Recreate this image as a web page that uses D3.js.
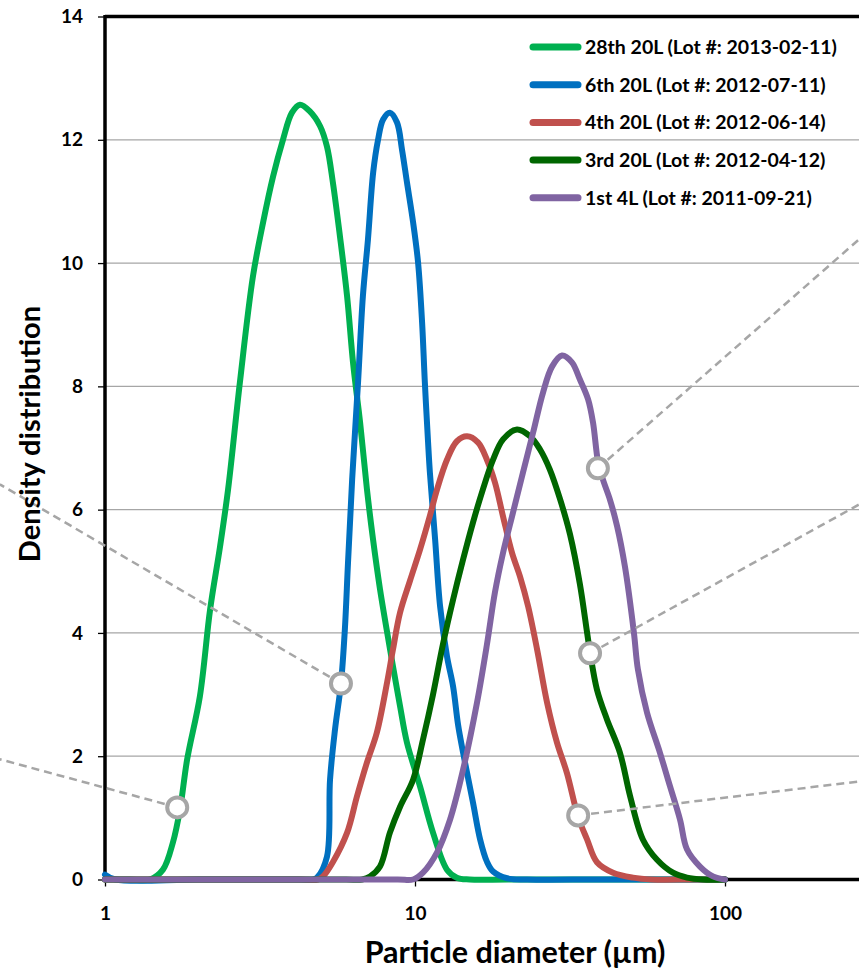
<!DOCTYPE html>
<html>
<head>
<meta charset="utf-8">
<script src="https://cdn.jsdelivr.net/npm/d3@7"></script>
<style>
  html, body { margin: 0; padding: 0; background: #fff; }
  svg { display: block; font-family: Lato, "Open Sans", sans-serif; }
</style>
</head>
<body>
<div id="chart"></div>
<script>
// Series (particle diameter in µm, density distribution)
const names = [
  "28th 20L (Lot #: 2013-02-11)",
  "6th 20L (Lot #: 2012-07-11)",
  "4th 20L (Lot #: 2012-06-14)",
  "3rd 20L (Lot #: 2012-04-12)",
  "1st 4L (Lot #: 2011-09-21)"
];
const colors = ["#00b050", "#0070c0", "#c0504d", "#006600", "#8064a2"];

const lot28X = [1, 1.2, 1.396, 1.538, 1.656, 1.746, 1.841, 2.023, 2.183, 2.35, 2.495, 2.723, 3.0, 3.236, 3.483, 3.75, 4.009, 4.256, 4.581, 4.943, 5.2, 5.433, 5.728, 6.039, 6.31, 6.653, 6.998, 7.32, 7.71, 8.13, 8.49, 8.95, 9.42, 10.38, 11.43, 12.68, 13.65, 15, 20, 40, 100];
const lot28Y = [0, 0, 0, 0.16, 0.6, 1.14, 1.95, 2.97, 4.38, 5.4, 6.33, 8.06, 9.78, 10.66, 11.4, 12.0, 12.44, 12.57, 12.46, 12.22, 11.89, 11.31, 10.43, 9.46, 8.39, 7.41, 6.33, 5.52, 4.71, 4.01, 3.46, 2.81, 2.22, 1.51, 0.76, 0.16, 0.03, 0, 0, 0, 0];

const lot6X = [1, 1.08, 2, 4.2, 4.69, 4.83, 5.2, 5.32, 5.52, 5.77, 5.94, 6.08, 6.27, 6.55, 6.79, 7.05, 7.33, 7.6, 7.89, 8.3, 8.75, 9.08, 9.42, 9.86, 10.23, 10.54, 10.76, 11.02, 11.17, 11.61, 12.05, 12.68, 13.27, 13.77, 14.29, 15.38, 16.22, 17.06, 17.86, 19.82, 23, 40, 100];
const lot6Y = [0.08, 0, 0, 0, 0, 0.03, 0.37, 1.62, 2.43, 3.18, 4.06, 5.14, 6.49, 8.06, 9.46, 10.38, 11.47, 12.0, 12.33, 12.44, 12.28, 11.84, 11.31, 10.66, 10.01, 9.04, 8.06, 7.09, 6.6, 5.52, 4.43, 3.62, 3.13, 2.51, 2.06, 1.25, 0.65, 0.29, 0.13, 0.02, 0, 0, 0];

const lot4X = [1, 2, 4.3, 4.86, 5.05, 5.43, 6.04, 6.5, 7.0, 7.53, 8.13, 8.49, 8.95, 9.64, 10.38, 11.17, 11.78, 12.68, 13.65, 14.72, 15.96, 17.06, 18.11, 19.23, 20.56, 21.83, 23.17, 24.77, 26.67, 28.71, 30.9, 33.57, 35.89, 38.64, 43.55, 50.47, 58, 80, 100];
const lot4Y = [0, 0, 0, 0, 0.05, 0.28, 0.76, 1.35, 1.9, 2.38, 3.2, 3.73, 4.33, 4.85, 5.35, 5.9, 6.33, 6.81, 7.11, 7.19, 7.09, 6.81, 6.44, 5.89, 5.3, 4.91, 4.43, 3.73, 2.87, 2.22, 1.73, 1.02, 0.65, 0.28, 0.11, 0.03, 0, 0, 0];

const lot3X = [1, 3, 6.0, 6.75, 7.16, 7.71, 8.3, 8.95, 9.86, 10.61, 11.43, 12.3, 13.27, 14.29, 15.38, 16.56, 17.86, 19.23, 21.33, 23.5, 25.29, 27.23, 29.37, 31.62, 34.04, 35.89, 36.71, 38.64, 41.59, 45.81, 49.43, 54.33, 60.38, 67.96, 75.38, 85, 100];
const lot3Y = [0, 0, 0, 0, 0.05, 0.21, 0.76, 1.18, 1.62, 2.27, 3.0, 3.81, 4.54, 5.19, 5.79, 6.33, 6.81, 7.14, 7.3, 7.19, 6.98, 6.65, 6.17, 5.6, 4.79, 4.01, 3.68, 3.08, 2.6, 2.06, 1.35, 0.65, 0.32, 0.11, 0.03, 0, 0];

const lot1X = [1, 4, 8.8, 9.86, 10.61, 11.78, 12.97, 14.29, 15.85, 17.06, 18.11, 19.23, 20.7, 22.29, 24.04, 25.88, 27.67, 29.79, 32.08, 34.04, 36.17, 37.53, 38.93, 40.37, 42.56, 44.87, 47.54, 50.82, 52.36, 56.02, 61.66, 66.49, 71.61, 75.38, 83.04, 91.46, 100];
const lot1Y = [0, 0, 0, 0, 0.11, 0.44, 0.97, 1.78, 2.87, 3.81, 4.66, 5.3, 5.95, 6.6, 7.25, 7.9, 8.32, 8.5, 8.39, 8.11, 7.79, 7.41, 6.78, 6.49, 6.16, 5.73, 5.08, 4.01, 3.41, 2.71, 2.06, 1.51, 0.97, 0.49, 0.21, 0.05, 0];

const seriesX = [lot28X, lot6X, lot4X, lot3X, lot1X];
const seriesY = [lot28Y, lot6Y, lot4Y, lot3Y, lot1Y];

// Callout markers on curves and the dashed leaders running off the picture
const calloutX = [1.71, 5.77, 38.9, 36.7, 33.6];
const calloutY = [1.17, 3.18, 6.67, 3.67, 1.04];
const leaderEndX = [0.458, 0.458, 270, 270, 270];
const leaderEndY = [1.95, 6.41, 10.38, 6.08, 1.59];

const yTicks = [0, 2, 4, 6, 8, 10, 12, 14];
const xTicks = [1, 10, 100];

// Parameters
const w = 859;
const h = 968;
const plotLeft = 105;
const plotTop = 16.5;
const plotBottom = 879.5;

const svg = d3
  .select("#chart")
  .append("svg")
  .attr("width", w)
  .attr("height", h);

const xScale = d3.scaleLog().domain([1, 1000]).range([plotLeft, plotLeft + 930]);
const yScale = d3.scaleLinear().domain([0, 14]).range([plotBottom, plotTop]);

// Gridlines
svg
  .append("g")
  .selectAll("line")
  .data(yTicks.filter((d) => d > 0 && d < 14))
  .enter()
  .append("line")
  .attr("x1", plotLeft)
  .attr("x2", w)
  .attr("y1", (d) => yScale(d))
  .attr("y2", (d) => yScale(d))
  .attr("stroke", "#a6a6a6")
  .attr("stroke-width", 1.3);

// Axes
const yAxis = d3.axisLeft(yScale).tickValues(yTicks).tickSize(7).tickPadding(15);
const xAxis = d3.axisBottom(xScale).tickValues(xTicks).tickSize(7).tickPadding(20).tickFormat(d3.format("d"));

const gy = svg.append("g").attr("transform", "translate(" + plotLeft + ",0)").call(yAxis);
const gx = svg.append("g").attr("transform", "translate(0," + plotBottom + ")").call(xAxis);

[gx, gy].forEach((g) => {
  g.select(".domain").remove();
  g.selectAll(".tick line").attr("stroke", "#000").attr("stroke-width", 1.3);
  g.selectAll(".tick text")
    .attr("fill", "#000")
    .style("font-size", "19px")
    .style("font-weight", "bold")
    .style("font-family", "Lato, sans-serif");
});

// Plot frame: left, top and bottom lines
svg.append("line").attr("x1", plotLeft).attr("x2", plotLeft).attr("y1", plotTop - 1.5).attr("y2", plotBottom + 1.5)
  .attr("stroke", "#000").attr("stroke-width", 3.5);
svg.append("line").attr("x1", plotLeft).attr("x2", w).attr("y1", plotTop).attr("y2", plotTop)
  .attr("stroke", "#000").attr("stroke-width", 3.5);
svg.append("line").attr("x1", plotLeft).attr("x2", w).attr("y1", plotBottom).attr("y2", plotBottom)
  .attr("stroke", "#000").attr("stroke-width", 3.5);

// Curves
const line = d3
  .line()
  .x((d) => xScale(d[0]))
  .y((d) => yScale(d[1]))
  .curve(d3.curveCatmullRom.alpha(0.5));

seriesX.forEach((xs, i) => {
  const pts = xs.map((x, j) => [x, seriesY[i][j]]);
  svg
    .append("path")
    .datum(pts)
    .attr("d", line)
    .attr("fill", "none")
    .attr("stroke", colors[i])
    .attr("stroke-width", 6)
    .attr("stroke-linejoin", "round")
    .attr("stroke-linecap", "round");
});

// Callouts
calloutX.forEach((cx, i) => {
  svg
    .append("line")
    .attr("x1", xScale(cx))
    .attr("y1", yScale(calloutY[i]))
    .attr("x2", xScale(leaderEndX[i]))
    .attr("y2", yScale(leaderEndY[i]))
    .attr("stroke", "#a6a6a6")
    .attr("stroke-width", 2.5)
    .attr("stroke-dasharray", "8,5");
});
svg
  .selectAll(".marker")
  .data(calloutX)
  .enter()
  .append("circle")
  .attr("cx", (d) => xScale(d))
  .attr("cy", (d, i) => yScale(calloutY[i]))
  .attr("r", 10)
  .attr("fill", "#fff")
  .attr("stroke", "#a6a6a6")
  .attr("stroke-width", 4);

// Legend
const legend = svg.append("g").attr("transform", "translate(533,47)");
names.forEach((name, i) => {
  const row = legend.append("g").attr("transform", "translate(0," + i * 37.7 + ")");
  row.append("line").attr("x1", 0).attr("x2", 45).attr("y1", 0).attr("y2", 0)
    .attr("stroke", colors[i]).attr("stroke-width", 7).attr("stroke-linecap", "round");
  row.append("text").attr("x", 52).attr("y", 0).attr("dy", "0.36em")
    .style("font-size", "19.5px").style("font-weight", "bold").text(name);
});

// Axis titles
svg.append("text")
  .attr("transform", "translate(40,434) rotate(-90)")
  .attr("text-anchor", "middle")
  .style("font-size", "29px")
  .style("font-weight", "bold")
  .text("Density distribution");

svg.append("text")
  .attr("x", 515)
  .attr("y", 963)
  .attr("text-anchor", "middle")
  .style("font-size", "30.5px")
  .style("font-weight", "bold")
  .text("Particle diameter (µm)");
</script>
</body>
</html>
